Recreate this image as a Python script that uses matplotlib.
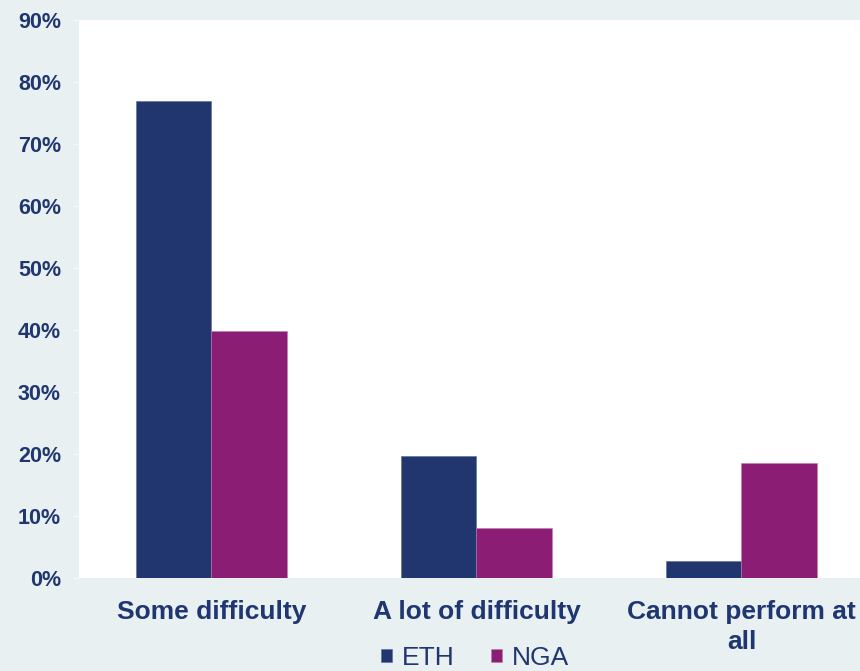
import numpy as np
import matplotlib.pyplot as plt
from matplotlib.ticker import PercentFormatter

categories = ["Some difficulty", "A lot of difficulty", "Cannot perform at\nall"]
eth = [77.0, 19.7, 2.8]
nga = [39.9, 8.0, 18.6]

BG = "#E8F0F2"
TXT = "#1F3670"
ETH_C = "#21366F"
NGA_C = "#8C1D74"

plt.rcParams["font.family"] = ["Liberation Sans", "DejaVu Sans"]

fig = plt.figure(figsize=(8.6, 6.71), dpi=100, facecolor=BG)
ax = fig.add_axes([79 / 860, 1 - 578 / 671, 795 / 860, 558 / 671])
ax.set_facecolor("white")

x = np.arange(len(categories))
w = 0.285
ax.bar(x - w / 2, eth, w, color=ETH_C, label="ETH", edgecolor="#5a6a9a", linewidth=0.4)
ax.bar(x + w / 2, nga, w, color=NGA_C, label="NGA", edgecolor="#c07ab5", linewidth=0.4)

ax.set_xlim(-0.5, 2.5)
ax.set_ylim(0, 90)
ax.set_yticks(np.arange(0, 91, 10))
ax.yaxis.set_major_formatter(PercentFormatter(decimals=0))
ax.set_xticks(x)
ax.set_xticklabels(categories)

for s in ax.spines.values():
    s.set_visible(False)

ax.tick_params(axis="y", length=4, color="#f6f8f9", width=1, pad=9,
               labelsize=15.5, labelcolor=TXT)
ax.tick_params(axis="x", length=0, pad=16, labelsize=19, labelcolor=TXT)
for lab in ax.get_yticklabels() + ax.get_xticklabels():
    lab.set_fontweight("bold")
for lab in ax.get_xticklabels():
    lab.set_linespacing(1.3)

leg = fig.legend(loc="center", bbox_to_anchor=(475 / 860, 1 - 658 / 671), ncol=2,
                 frameon=False, fontsize=19, handlelength=0.42, handleheight=0.42,
                 handletextpad=0.35, columnspacing=1.4, borderaxespad=0)
for t in leg.get_texts():
    t.set_color(TXT)

fig.savefig("out.png", dpi=100, facecolor=BG)
